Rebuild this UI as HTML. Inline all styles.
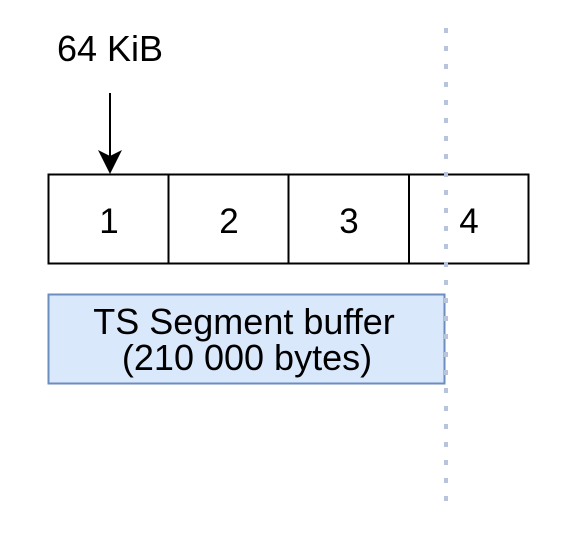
<!DOCTYPE html>
<html><head><style>body{margin:0;background:#fff}</style></head><body>
<svg width="582" height="536" xmlns="http://www.w3.org/2000/svg" font-family="Liberation Sans, Arial, sans-serif">
<rect width="582" height="536" fill="#fff"/>
<text x="57" y="61" font-size="36" fill="#000">64 KiB</text>
<line x1="110" y1="93" x2="110" y2="158" stroke="#000" stroke-width="2"/>
<polygon points="110,174 98,150 110,156 122,150" fill="#000"/>
<rect x="48.5" y="174.5" width="480" height="89" fill="#fff" stroke="#000" stroke-width="2"/>
<line x1="168.5" y1="174" x2="168.5" y2="264" stroke="#000" stroke-width="2"/>
<line x1="288.5" y1="174" x2="288.5" y2="264" stroke="#000" stroke-width="2"/>
<line x1="409" y1="174" x2="409" y2="264" stroke="#000" stroke-width="2"/>
<g font-size="35" text-anchor="middle" fill="#000">
<text x="109" y="233">1</text><text x="229" y="233">2</text><text x="349" y="233">3</text><text x="469" y="233">4</text>
</g>
<rect x="48.5" y="294.5" width="396" height="89" fill="#dae8fc" stroke="#6c8ebf" stroke-width="2"/>
<g font-size="36" text-anchor="middle" fill="#000">
<text x="244" y="334">TS Segment buffer</text>
<text x="247" y="370">(210 000 bytes)</text>
</g>
<line x1="446" y1="28" x2="446" y2="502" stroke="#b7c4dc" stroke-width="4" stroke-dasharray="5 13"/>
</svg>
</body></html>
